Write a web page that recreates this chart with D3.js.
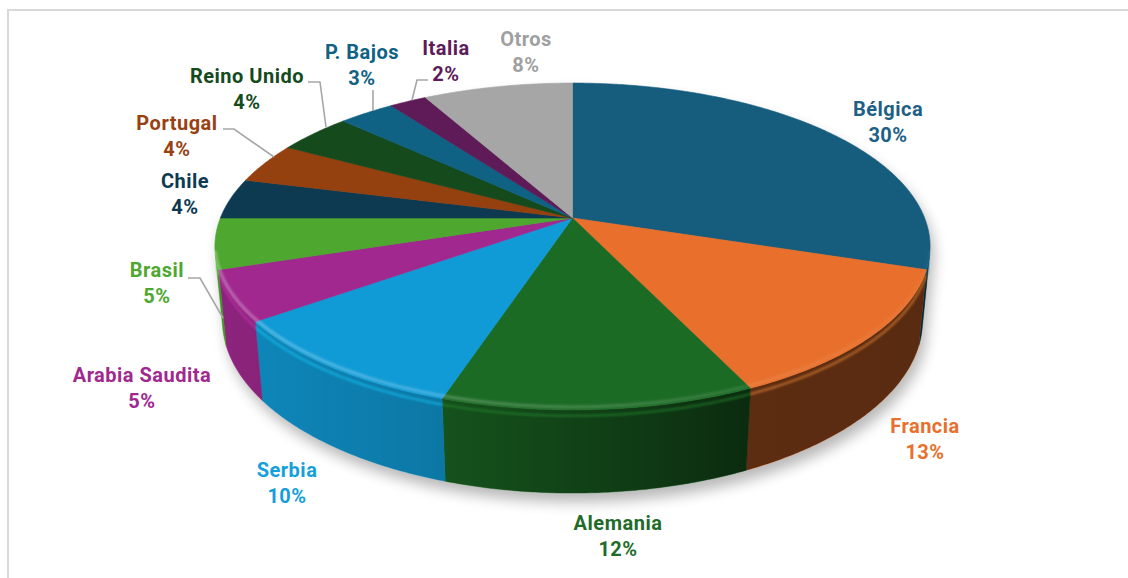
<!DOCTYPE html>
<html><head><meta charset="utf-8">
<script src="https://cdn.jsdelivr.net/npm/d3@7"></script>
<style>html,body{margin:0;padding:0;background:#fff;overflow:hidden}</style>
</head><body>
<svg id="chart" width="1128" height="578"></svg>
<script>
// ---------- data ----------
const categories = ["Bélgica","Francia","Alemania","Serbia","Arabia Saudita","Brasil","Chile","Portugal","Reino Unido","P. Bajos","Italia","Otros"];
const values = [30,13,12,10,5,5,4,4,4,3,2,8];
const percentLabels = ["30%","13%","12%","10%","5%","5%","4%","4%","4%","3%","2%","8%"];

// ---------- styles / layout ----------
const sliceColors = ["#165c7d","#e8702c","#1c6b25","#109bd6","#a0288e","#4ea72f","#0d3a51","#95400f","#144a1c","#0f6283","#5e1b58","#a6a6a6"];
const labelColors = ["#1d6085","#e8702c","#1e6c27","#14a0dc","#a0288e","#4ea72f","#0d3a51","#984212","#144a1c","#0f6283","#5e1b58","#a0a0a0"];
// label anchor (center x, baseline of first line)
const labelPos = [[888,116],[925,433],[618,530],[287,477],[142,382],[157,277],[185,188],[177,130],[247,83],[362,59],[446,55],[526,46]];
// leader lines (only for some labels)
const leaders = {
  5: [[188,278],[200,278],[223,318]],
  7: [[223,129],[234,129],[274,157]],
  8: [[308,82],[320,82],[326,127]],
  9: [[373,90],[373,111]],
  10:[[428,80],[417,80],[412,100]]
};

const W = 1128, H = 578;
const svg = d3.select("#chart");

// ---------- 3D projection ----------
const cx = 572.5, cy = 218;
const sA = 0.45, cA = Math.sqrt(1 - sA*sA);
const Dist = 5.126, F = 1805, depth = 0.2366;
function proj(phi, r, z) {
  const u = r*Math.sin(phi), v = -r*Math.cos(phi);
  const d = Dist - (v*cA + z*sA);
  return [cx + u*F/d, cy - (-v*sA + z*cA)*F/d];
}
function arcPts(a0, a1, z) {
  const n = Math.max(2, Math.ceil(Math.abs(a1 - a0) / (Math.PI/360)));
  return d3.range(n + 1).map(i => proj(a0 + (a1 - a0)*i/n, 1, z));
}
const line = d3.line();

const pie = d3.pie().sort(null).value(d => d).startAngle(0).endAngle(2*Math.PI);
const arcs = pie(values);
const color = d3.scaleOrdinal().domain(categories).range(sliceColors);

// visible side range
const visLim = Math.acos(-1/(Dist*cA));
const vis0 = visLim, vis1 = 2*Math.PI - visLim;

const defs = svg.append("defs");
// frame
svg.append("rect").attr("x",8).attr("y",10).attr("width",1200).attr("height",700)
  .attr("fill","none").attr("stroke","#d9d9d9").attr("stroke-width",2);

// shadow
const blur = defs.append("filter").attr("id","shadow").attr("x","-20%").attr("y","-20%").attr("width","140%").attr("height","140%");
blur.append("feGaussianBlur").attr("stdDeviation",7);
const blur2 = defs.append("filter").attr("id","soft");
blur2.append("feGaussianBlur").attr("stdDeviation",1.2);

const silhouette = arcPts(vis1, vis0 + 2*Math.PI, 0).concat(arcPts(vis0, vis1, -depth));
svg.append("path").attr("d", line(silhouette) + "Z")
  .attr("transform","translate(4,9)")
  .attr("fill","#000").attr("opacity",0.28).attr("filter","url(#shadow)");

// side gradient
const grad = defs.append("linearGradient").attr("id","sideShade")
  .attr("gradientUnits","userSpaceOnUse").attr("x1",215).attr("x2",930).attr("y1",0).attr("y2",0);
[[0,0.12],[0.3,0.22],[0.55,0.42],[0.75,0.6],[1,0.62]].forEach(([o,a]) =>
  grad.append("stop").attr("offset",o).attr("stop-color","#000").attr("stop-opacity",a));

const gSides = svg.append("g");
const sidePolys = [];
arcs.forEach((a, i) => {
  const a0 = Math.max(a.startAngle, vis0), a1 = Math.min(a.endAngle, vis1);
  if (a1 <= a0) return;
  const pts = arcPts(a0, a1, 0).concat(arcPts(a1, a0, -depth));
  sidePolys.push({i, a0, a1, d: line(pts) + "Z"});
});
gSides.selectAll("path.side").data(sidePolys).join("path")
  .attr("class","side").attr("d", d => d.d)
  .attr("fill", d => color(categories[d.i])).attr("stroke", d => color(categories[d.i])).attr("stroke-width",0.5);
gSides.selectAll("path.shade").data(sidePolys).join("path")
  .attr("class","shade").attr("d", d => d.d).attr("fill","url(#sideShade)");
// bevel highlight on side top
gSides.selectAll("path.bevel").data(sidePolys).join("path")
  .attr("class","bevel").attr("d", d => line(arcPts(d.a0, d.a1, -depth*0.07)))
  .attr("fill","none").attr("stroke", d => d3.color(color(categories[d.i])).brighter(0.8))
  .attr("stroke-width",2.5).attr("opacity",0.5).attr("filter","url(#soft)");

// top faces
svg.append("g").selectAll("path.top").data(arcs).join("path")
  .attr("class","top")
  .attr("d", a => line([proj(0,0,0)].concat(arcPts(a.startAngle, a.endAngle, 0))) + "Z")
  .attr("fill", (a, i) => color(categories[i]))
  .attr("stroke", (a, i) => color(categories[i])).attr("stroke-width",0.6).attr("stroke-linejoin","round");

// rim highlight on top face front edge
const rimGrad = defs.append("linearGradient").attr("id","rimHi")
  .attr("gradientUnits","userSpaceOnUse").attr("x1",215).attr("x2",930).attr("y1",0).attr("y2",0);
[[0,0.3],[0.5,0.18],[1,0.03]].forEach(([o,a]) =>
  rimGrad.append("stop").attr("offset",o).attr("stop-color","#fff").attr("stop-opacity",a));
svg.append("path").attr("d", line(arcPts(vis0, vis1, 0).map(p => [p[0], p[1]-3])))
  .attr("fill","none").attr("stroke","url(#rimHi)").attr("stroke-width",3).attr("filter","url(#soft)");

// leader lines
svg.append("g").selectAll("path.leader").data(Object.entries(leaders)).join("path")
  .attr("d", d => line(d[1])).attr("fill","none").attr("stroke","#a6a6a6").attr("stroke-width",1.6);

// labels
const gl = svg.append("g").attr("font-family","Roboto, 'DejaVu Sans', sans-serif")
  .attr("font-weight",700).attr("font-size",20).attr("text-anchor","middle");
categories.forEach((c, i) => {
  const t = gl.append("text").attr("x", labelPos[i][0]).attr("y", labelPos[i][1])
    .attr("fill", labelColors[i]).attr("letter-spacing","0.5px");
  t.append("tspan").attr("x", labelPos[i][0]).text(c);
  t.append("tspan").attr("x", labelPos[i][0]).attr("dy", 25.5).text(percentLabels[i]);
});
</script>
</body></html>
